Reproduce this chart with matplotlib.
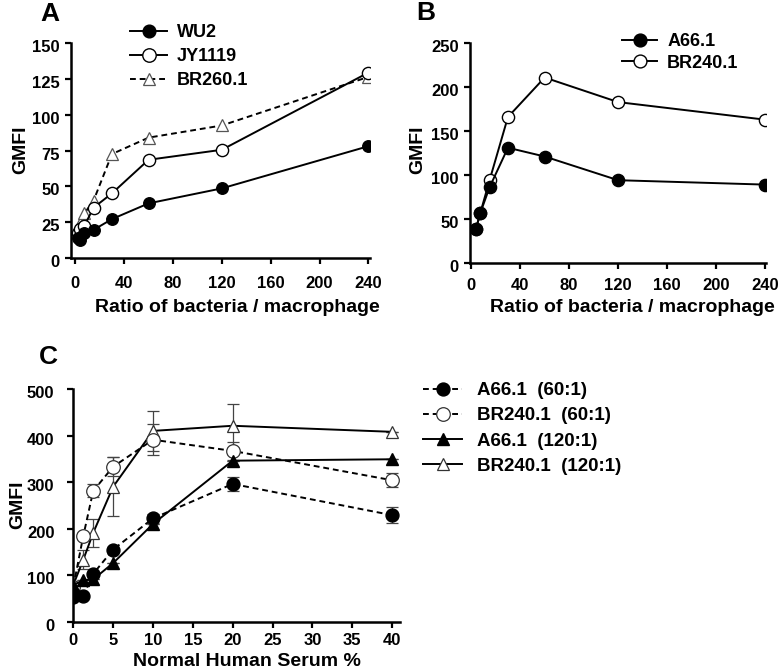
import matplotlib
matplotlib.use("Agg")
import matplotlib.pyplot as plt
import matplotlib.transforms as mtransforms
import numpy as np

plt.rcParams['font.family'] = ['Liberation Sans', 'DejaVu Sans']
plt.rcParams['font.weight'] = 'bold'

# ---------------- Data ----------------
# Panel A
ratio_a = [1.875, 3.75, 7.5, 15, 30, 60, 120, 240]
wu2 = [14, 12.5, 17, 19.5, 27, 38, 48.5, 78]
jy1119 = [17, 20, 22.5, 35, 45, 68.5, 75.5, 129.5]
br260 = [20, 24, 31, 40, 72.5, 84, 92.5, 126.5]
labels_a = ["WU2", "JY1119", "BR260.1"]

# Panel B
ratio_b = [3.75, 7.5, 15, 30, 60, 120, 240]
a661_b = [38, 57, 86, 131, 121, 94, 89]
br2401_b = [38, 57, 94, 166, 211, 183, 163]
labels_b = ["A66.1", "BR240.1"]

# Panel C
serum = [0, 1.25, 2.5, 5, 10, 20, 40]
a661_60 = [52, 55, 103, 155, 222, 296, 229]
a661_60_err = [0, 0, 0, 0, 10, 15, 17]
br2401_60 = [75, 184, 281, 333, 391, 367, 304]
br2401_60_err = [0, 0, 14, 20, 33, 20, 15]
a661_120 = [79, 89, 91, 126, 210, 346, 349]
a661_120_err = [0, 0, 0, 0, 0, 0, 0]
br2401_120 = [79, 133, 191, 290, 410, 421, 408]
br2401_120_err = [0, 20, 30, 63, 43, 47, 0]
labels_c = ["A66.1  (60:1)", "BR240.1  (60:1)", "A66.1  (120:1)", "BR240.1  (120:1)"]

# ---------------- Figure ----------------
W, H = 780, 670
fig = plt.figure(figsize=(W / 100, H / 100), dpi=100)


def axes_px(l, t, r, b):
    return fig.add_axes([l / W, 1 - b / H, (r - l) / W, (b - t) / H])


def style(ax, xpad, ypad):
    for s in ['top', 'right']:
        ax.spines[s].set_visible(False)
    for s in ['left', 'bottom']:
        ax.spines[s].set_linewidth(1.8)
    ax.tick_params(direction='out', length=4, width=1.6, labelsize=12)
    ax.tick_params(axis='x', pad=xpad)
    ax.tick_params(axis='y', pad=ypad)
    for lab in ax.get_xticklabels() + ax.get_yticklabels():
        lab.set_fontweight('bold')
    off = mtransforms.ScaledTranslation(0, -3 / 100, fig.dpi_scale_trans)
    for lab in ax.get_yticklabels():
        lab.set_transform(lab.get_transform() + off)


def place_labels(ax, l, t, r, b, xl_cx, xl_cy, yl_cx, yl_cy):
    ax.xaxis.set_label_coords((xl_cx - l) / (r - l), (b - xl_cy) / (b - t))
    ax.xaxis.label.set_va('center')
    ax.yaxis.set_label_coords((yl_cx - l) / (r - l), (b - yl_cy) / (b - t))
    ax.yaxis.label.set_va('center')


def bold_legend(leg):
    for t in leg.get_texts():
        t.set_fontweight('bold')


lw = 1.4
ms = 8.3
dash = (0, (3, 2.0))
lab_fs = 14
leg_fs = 13

# Panel A
A = (71, 43.3, 369.6, 257.7)
axA = axes_px(*A)
axA.plot(ratio_a, wu2, '-', color='black', lw=lw, marker='o', ms=ms,
         mfc='black', mec='black', label=labels_a[0], zorder=3)
axA.plot(ratio_a, jy1119, '-', color='black', lw=lw, marker='o', ms=ms + 0.5,
         mfc='white', mec='black', mew=1.0, label=labels_a[1], zorder=2)
axA.plot(ratio_a, br260, linestyle=dash, color='black', lw=lw, marker='^', ms=ms,
         mfc='white', mec='#555555', mew=0.9, label=labels_a[2], zorder=1)
axA.set_xlim(-3.5, 241)
axA.set_ylim(0, 150)
axA.set_xticks(np.arange(0, 241, 40))
axA.set_yticks(np.arange(0, 151, 25))
style(axA, 9, 4)
axA.set_ylabel("GMFI", fontsize=lab_fs, fontweight='bold')
axA.set_xlabel("Ratio of bacteria / macrophage", fontsize=lab_fs, fontweight='bold')
place_labels(axA, *A, 237.5, 307, 21, 150)
legA = axA.legend(loc='upper left', bbox_to_anchor=(130 / W, 1 - 24 / H),
                  bbox_transform=fig.transFigure, frameon=False, fontsize=leg_fs,
                  handlelength=2.05, handletextpad=0.55, labelspacing=0.4,
                  borderpad=0, borderaxespad=0, markerscale=1.1)
bold_legend(legA)
fig.text(49.5, H - 14, "A", fontsize=19, fontweight='bold', ha='center', va='center',
         transform=None)

# Panel B
B = (470, 43.3, 766.2, 262.7)
axB = axes_px(*B)
axB.plot(ratio_b, br2401_b, '-', color='black', lw=lw, marker='o', ms=ms + 0.5,
         mfc='white', mec='black', mew=1.0, label=labels_b[1], zorder=2)
axB.plot(ratio_b, a661_b, '-', color='black', lw=lw, marker='o', ms=ms + 0.5,
         mfc='black', mec='black', label=labels_b[0], zorder=3)
axB.set_xlim(-1, 241)
axB.set_ylim(0, 250)
axB.set_xticks(np.arange(0, 241, 40))
axB.set_yticks(np.arange(0, 251, 50))
style(axB, 7, 4)
axB.set_ylabel("GMFI", fontsize=lab_fs, fontweight='bold')
axB.set_xlabel("Ratio of bacteria / macrophage", fontsize=lab_fs, fontweight='bold')
place_labels(axB, *B, 632, 307, 418, 150)
hB, lB = axB.get_legend_handles_labels()
legB = axB.legend(hB[::-1], lB[::-1], loc='upper left', bbox_to_anchor=(622 / W, 1 - 33 / H),
                  bbox_transform=fig.transFigure, frameon=False, fontsize=leg_fs,
                  handlelength=1.95, handletextpad=0.55, labelspacing=0.26,
                  borderpad=0, borderaxespad=0, markerscale=1.05)
bold_legend(legB)
fig.text(425.5, H - 13.5, "B", fontsize=19, fontweight='bold', ha='center', va='center',
         transform=None)

# Panel C
C = (72.5, 389, 400, 621.7)
axC = axes_px(*C)
ekw = dict(ecolor='#444444', elinewidth=0.9, capsize=4.5, capthick=0.9)
eb4 = axC.errorbar(serum, br2401_120, yerr=br2401_120_err, linestyle='-', color='black', lw=lw,
                   marker='^', ms=ms + 1, mfc='white', mec='#333333', mew=0.9,
                   zorder=2, **ekw)
eb2 = axC.errorbar(serum, br2401_60, yerr=br2401_60_err, linestyle=dash, color='black', lw=lw,
                   marker='o', ms=ms + 1.5, mfc='white', mec='#333333', mew=0.9,
                   zorder=2, **ekw)
eb3 = axC.errorbar(serum, a661_120, yerr=a661_120_err, linestyle='-', color='black', lw=lw,
                   marker='^', ms=ms + 1, mfc='black', mec='black',
                   zorder=3, **ekw)
eb1 = axC.errorbar(serum, a661_60, yerr=a661_60_err, linestyle=dash, color='black', lw=lw,
                   marker='o', ms=ms + 1, mfc='black', mec='black',
                   zorder=3, **ekw)
axC.set_xlim(-0.1, 41)
axC.set_ylim(0, 500)
axC.set_xticks(np.arange(0, 41, 5))
axC.set_yticks(np.arange(0, 501, 100))
style(axC, 4, 9)
axC.set_ylabel("GMFI", fontsize=lab_fs, fontweight='bold')
axC.set_xlabel("Normal Human Serum %", fontsize=lab_fs, fontweight='bold')
place_labels(axC, *C, 247, 661, 18, 505)
legC = axC.legend([eb1.lines[0], eb2.lines[0], eb3.lines[0], eb4.lines[0]], labels_c,
                  loc='upper left', bbox_to_anchor=(423 / W, 1 - 382 / H),
                  bbox_transform=fig.transFigure, frameon=False, fontsize=13.5,
                  handlelength=2.1, handletextpad=0.8, labelspacing=0.43,
                  borderpad=0, borderaxespad=0)
bold_legend(legC)
fig.text(48.5, H - 357.5, "C", fontsize=19, fontweight='bold', ha='center', va='center',
         transform=None)

fig.savefig("out.png", dpi=100)
